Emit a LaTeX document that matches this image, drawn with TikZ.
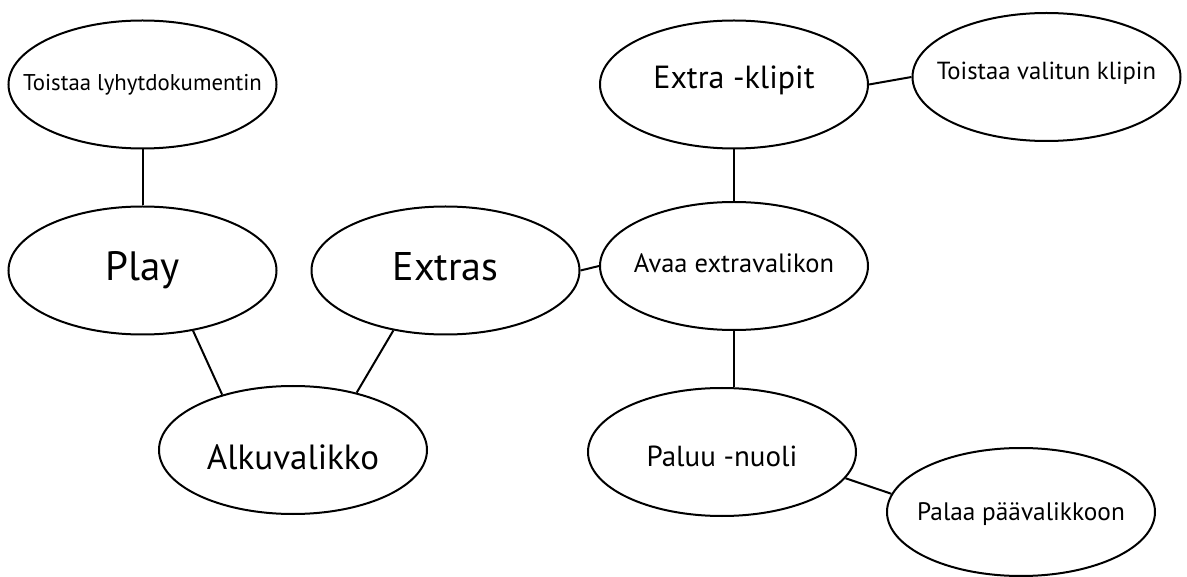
\documentclass[tikz,border=0pt]{standalone}
\usepackage{fontspec}
\setmainfont{PT Sans}
\usetikzlibrary{shapes.geometric}
\tikzset{
  bubble/.style={ellipse, draw=black, line width=2pt, fill=white,
    minimum width=268pt, minimum height=128pt, inner sep=0pt},
  txt/.style={font=\fontsize{#1}{#1}\selectfont, inner sep=0pt},
  link/.style={draw=black, line width=2pt}
}
\begin{document}
\begin{tikzpicture}[x=1pt, y=-1pt]
  \useasboundingbox (0,0) rectangle (1187,577);
  % menu tree nodes
  \node[bubble, label={[txt=22.8]center:Toistaa lyhytdokumentin}] (lyhyt) at (142.5,84.5) {};
  \node[bubble, label={[txt=41]center:Play}] (play) at (142.5,270.5) {};
  \node[bubble, label={[txt=40, yshift=4pt]center:Extras}] (extras) at (445.5,270.5) {};
  \node[bubble, label={[txt=35, yshift=-7pt]center:Alkuvalikko}] (alku) at (293,450) {};
  \node[bubble, label={[txt=32, yshift=4pt]center:Extra -klipit}] (klipit) at (734,84.5) {};
  \node[bubble, label={[txt=24.7, yshift=4pt]center:Toistaa valitun klipin}] (valitun) at (1046.5,77) {};
  \node[bubble, label={[txt=26.5, yshift=2.5pt]center:Avaa extravalikon}] (avaa) at (734,266) {};
  \node[bubble, label={[txt=29, yshift=-4pt]center:Paluu -nuoli}] (paluu) at (722,452) {};
  \node[bubble, label={[txt=25.3, yshift=-2pt]center:Palaa päävalikkoon}] (palaa) at (1021,512) {};
  % connections
  \draw[link] (lyhyt.south) -- (play.north);
  \draw[link] (play.-50.6) -- (alku.142.7);
  \draw[link] (extras.-131.5) -- (alku.42.1);
  \draw[link] (extras.east) -- (avaa.west);
  \draw[link] (klipit.south) -- (avaa.north);
  \draw[link] (klipit.east) -- (valitun.west);
  \draw[link] (avaa.south) -- (avaa.south |- paluu.north);
  \draw[link] (paluu.-12.4) -- (palaa.172.4);
\end{tikzpicture}
\end{document}
